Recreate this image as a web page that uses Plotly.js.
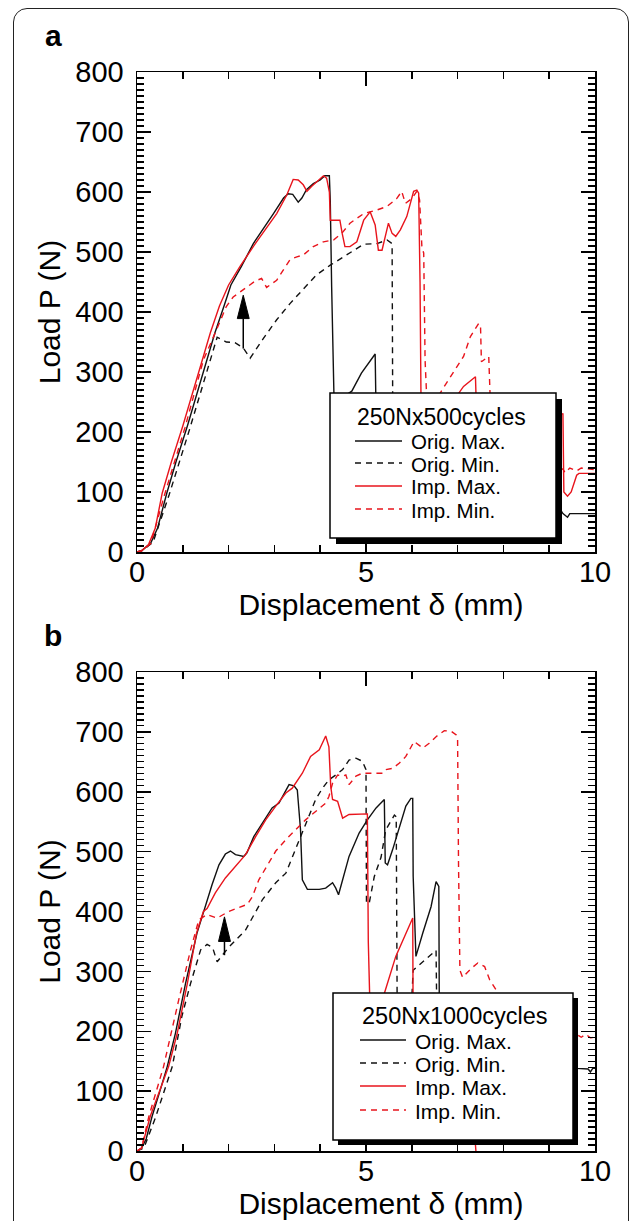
<!DOCTYPE html>
<html><head><meta charset="utf-8">
<script src="https://cdn.plot.ly/plotly-3.0.1.min.js"></script>
<style>
html,body{margin:0;padding:0;background:#fff;}
#chart{width:633px;height:1221px;}
#frame{position:absolute;left:13px;top:8px;width:614px;height:1300px;border:1.5px solid #222;border-radius:14px;pointer-events:none;}
</style></head><body>
<div id="chart"></div><div id="frame"></div>
<script>
// ---------- Panel a : 250N x 500 cycles ----------
const aOrigMaxX = [0,0.1,0.3,0.45,0.65,0.85,1.1,1.3,1.5,1.7,1.9,2.05,2.28,2.54,2.98,3.2,3.3,3.4,3.52,3.6,3.7,3.85,4.0,4.1,4.2,4.22,4.25,4.28,4.3,4.5,4.69,4.9,5.05,5.2,5.22,5.6,6.5,7.5,8.5,9.0,9.25,9.3,9.4,9.45,9.6,10];
const aOrigMaxY = [0,2,15,40,98,150,210,262,315,365,410,445,476,514,564,590,597,596,583,590,604,614,620,627,627,585,442,300,262,258,268,298,315,330,230,200,160,130,100,80,70,64,58,64,64,64];
const aOrigMinX = [0,0.1,0.35,0.7,1.15,1.55,1.75,1.95,2.14,2.32,2.47,2.76,3.05,3.34,3.78,3.92,4.22,4.51,4.95,5.24,5.46,5.57,5.59,6.5,7.0];
const aOrigMinY = [0,2,16,95,205,305,358,350,349,340,323,356,387,414,451,462,478,492,513,514,520,514,100,80,60];
const aImpMaxX = [0,0.1,0.25,0.4,0.55,0.75,1.0,1.2,1.4,1.6,1.8,2.0,2.25,2.61,3.05,3.27,3.41,3.52,3.63,3.71,3.81,3.96,4.07,4.14,4.2,4.22,4.43,4.48,4.54,4.65,4.8,4.95,5.09,5.2,5.27,5.35,5.49,5.57,5.65,5.75,5.89,6.04,6.11,6.15,6.18,6.2,6.22,6.6,7.0,7.13,7.39,7.41,8.0,9.0,9.3,9.32,9.4,9.48,9.6,9.65,10];
const aImpMaxY = [0,2,12,40,98,150,210,262,315,365,410,445,476,517,564,595,621,620,612,601,609,620,627,623,600,553,553,531,509,509,517,553,567,545,503,503,548,531,526,537,559,601,603,598,450,264,250,240,262,276,292,240,235,232,230,100,93,100,128,131,131];
const aImpMinX = [0,0.1,0.3,0.6,1.05,1.45,1.7,1.95,2.1,2.32,2.57,2.72,2.83,3.05,3.34,3.49,3.63,3.85,4.07,4.29,4.47,4.65,4.95,5.24,5.46,5.67,5.78,5.86,6.0,6.11,6.17,6.22,6.26,6.29,6.33,6.55,6.66,7.13,7.28,7.46,7.5,7.52,7.68,7.71,8.5,9.2,9.3,9.35,9.45,9.6,9.7,10];
const aImpMinY = [0,2,14,95,208,320,364,409,425,437,451,456,441,453,487,492,495,509,517,520,531,548,564,570,576,589,601,581,589,601,587,509,498,320,250,255,270,326,359,381,378,317,326,260,170,140,138,132,140,135,140,137];

// ---------- Panel b : 250N x 1000 cycles ----------
const bOrigMaxX = [0,0.1,0.2,0.33,0.5,0.66,0.84,1.06,1.31,1.45,1.55,1.64,1.79,1.93,2.04,2.15,2.33,2.4,2.55,2.74,2.95,3.1,3.25,3.32,3.43,3.5,3.57,3.61,3.72,3.98,4.12,4.27,4.34,4.4,4.49,4.63,4.85,5.03,5.22,5.36,5.4,5.42,5.47,5.58,5.73,5.87,5.98,6.02,6.03,6.09,6.24,6.42,6.53,6.59,6.6,7.5,8.5,9.4,9.6,9.85,9.9,9.95,10];
const bOrigMaxY = [0,5,20,58,100,141,197,280,364,400,425,445,478,496,501,495,492,498,525,548,573,581,603,612,610,603,537,453,437,437,439,448,439,428,453,492,531,553,573,584,587,481,478,503,542,576,589,589,459,325,364,408,450,442,250,200,160,140,138,137,132,138,138];
const bOrigMinX = [0,0.15,0.4,0.77,0.98,1.17,1.39,1.53,1.65,1.75,2.0,2.37,2.74,3.03,3.25,3.47,3.68,3.9,4.05,4.19,4.34,4.49,4.63,4.78,4.92,5.0,5.01,5.07,5.18,5.33,5.43,5.55,5.62,5.66,5.68,6.0,6.03,6.3,6.53,6.55,7.5,9.0];
const bOrigMinY = [0,5,55,141,225,280,336,345,340,316,340,369,420,448,464,506,548,587,606,620,628,637,653,656,651,637,414,414,458,491,536,552,561,558,250,255,302,320,335,200,150,125];
const bImpMaxX = [0,0.1,0.29,0.5,0.69,0.88,1.1,1.3,1.45,1.53,1.71,1.93,2.15,2.37,2.59,2.81,3.03,3.25,3.39,3.46,3.61,3.79,3.98,4.12,4.19,4.23,4.27,4.38,4.49,4.63,5.0,5.03,5.05,5.1,5.3,5.4,5.65,6.02,6.03,7.38,7.4];
const bImpMaxY = [0,5,58,100,141,197,280,364,400,405,431,456,475,495,525,553,576,598,606,614,631,659,670,693,675,609,587,584,556,562,563,563,350,200,230,263,325,389,200,20,0];
const bImpMinX = [0,0.1,0.26,0.58,0.91,1.17,1.35,1.53,1.75,2.0,2.41,2.52,2.66,2.81,3.03,3.25,3.46,3.68,3.9,4.12,4.19,4.27,4.38,4.49,4.56,4.63,4.78,4.92,5.14,5.36,5.43,5.58,5.73,5.87,6.05,6.16,6.24,6.38,6.53,6.71,6.86,6.97,7.0,7.02,7.05,7.11,7.3,7.44,7.59,7.7,7.84,7.9,8.5,9.3,9.62,9.7,9.8,9.9,10];
const bImpMinY = [0,5,58,141,252,336,386,395,389,400,412,425,453,473,501,520,537,553,567,581,592,614,628,626,628,612,626,631,631,631,637,639,648,659,684,678,673,681,692,702,701,695,687,480,302,290,305,314,308,286,269,240,210,197,194,190,195,189,190];

const seriesNames = ['Orig. Max.','Orig. Min.','Imp. Max.','Imp. Min.'];
const legendTitles = ['250Nx500cycles','250Nx1000cycles'];
const xTickVals = [0,5,10];
// arrows: [x, stem bottom, head base, tip]
const arrowA = [2.32, 339, 389, 428];
const arrowB = [1.91, 327, 350, 391];

// ---------- layout helpers ----------
const W=633,H=1221,ML=137,MR=38,MT=72,MB=70;
const PW=W-ML-MR, PH=H-MT-MB;
const px2x = p => (p-ML)/PW;
const py2y = p => (H-MB-p)/PH;
const FONT = 'Liberation Sans, Arial, Helvetica, sans-serif';
const RED = '#e8141c', BLK = '#111111';
const colorOf = i => (i<2)?BLK:RED;
const dashOf = i => (i%2===1)?'6px,5px':'solid';

function tr(x,y,i,xa,ya){
  return {x:x,y:y,type:'scatter',mode:'lines',name:seriesNames[i],showlegend:false,
    line:{color:colorOf(i),width:1.4,dash:dashOf(i),shape:'linear'},
    xaxis:xa,yaxis:ya,hoverinfo:'skip'};
}
const data = [
  tr(aOrigMaxX,aOrigMaxY,0,'x','y'),
  tr(aOrigMinX,aOrigMinY,1,'x','y'),
  tr(aImpMaxX,aImpMaxY,2,'x','y'),
  tr(aImpMinX,aImpMinY,3,'x','y'),
  tr(bOrigMaxX,bOrigMaxY,0,'x2','y2'),
  tr(bOrigMinX,bOrigMinY,1,'x2','y2'),
  tr(bImpMaxX,bImpMaxY,2,'x2','y2'),
  tr(bImpMinX,bImpMinY,3,'x2','y2')
];

function xax(anchor){
  return {domain:[0,1],anchor:anchor,range:[0,10],tickmode:'array',tickvals:xTickVals,
    ticks:'inside',ticklen:14,tickwidth:1.5,tickcolor:'#000',mirror:'allticks',
    showline:true,linewidth:1.5,linecolor:'#000',showgrid:false,zeroline:false,
    minor:{dtick:1,tick0:0,ticks:'inside',ticklen:7,tickwidth:1.5,tickcolor:'#000',showgrid:false},
    tickfont:{family:FONT,size:29,color:'#000'},ticklabelstandoff:-6,
    title:{text:'\u200b\u2002\u2002Displacement \u03b4 (mm)',font:{family:FONT,size:30,color:'#000'},standoff:2}};
}
function yax(anchor,dom){
  return {domain:dom,anchor:anchor,range:[0,800],dtick:100,tick0:0,
    ticks:'inside',ticklen:14,tickwidth:1.5,tickcolor:'#000',mirror:'allticks',
    showline:true,linewidth:1.5,linecolor:'#000',showgrid:false,zeroline:false,
    minor:{dtick:10,ticks:'inside',ticklen:7,tickwidth:1.2,tickcolor:'#000',showgrid:false},
    tickfont:{family:FONT,size:29,color:'#000'},ticklabelstandoff:6,
    title:{text:'Load P (N)',font:{family:FONT,size:30,color:'#000'},standoff:6}};
}

function arrowShapes(a,xr,yr){
  const hw=0.13;
  return [
    {type:'line',xref:xr,yref:yr,x0:a[0],x1:a[0],y0:a[1],y1:a[2],line:{color:'#000',width:1.5}},
    {type:'path',xref:xr,yref:yr,path:`M ${a[0]-hw},${a[2]} L ${a[0]+hw},${a[2]} L ${a[0]},${a[3]} Z`,
     fillcolor:'#000',line:{color:'#000',width:1}}
  ];
}

// legend boxes (pixel geometry of the drawing)
const legA = {box:[330,393,556,538],off:6,titleX:355,titleY:417,titleSize:23,lineX:[355,402],textX:409,rows:[441,463,486,509],size:20.5};
const legB = {box:[333,993,573,1140],off:5,titleX:360,titleY:1016,titleSize:23.5,lineX:[360,406],textX:413,rows:[1040,1063,1086,1110],size:21};

function legendParts(L,title){
  const [l,t,r,b]=L.box, o=L.off;
  const shapes=[
    {type:'rect',xref:'paper',yref:'paper',x0:px2x(l+o),x1:px2x(r+o),y0:py2y(b+o),y1:py2y(t+o),
     fillcolor:'#000',line:{width:0},layer:'above'},
    {type:'rect',xref:'paper',yref:'paper',x0:px2x(l),x1:px2x(r),y0:py2y(b),y1:py2y(t),
     fillcolor:'#fff',line:{color:'#000',width:1.5},layer:'above'}
  ];
  const ann=[{text:title,xref:'paper',yref:'paper',x:px2x(L.titleX),y:py2y(L.titleY),
    xanchor:'left',yanchor:'middle',showarrow:false,font:{family:FONT,size:L.titleSize,color:'#000'}}];
  seriesNames.forEach((nm,i)=>{
    const yy=L.rows[i];
    shapes.push({type:'line',xref:'paper',yref:'paper',x0:px2x(L.lineX[0]),x1:px2x(L.lineX[1]),
      y0:py2y(yy),y1:py2y(yy),line:{color:colorOf(i),width:1.4,dash:dashOf(i)},layer:'above'});
    ann.push({text:nm,xref:'paper',yref:'paper',x:px2x(L.textX),y:py2y(yy+1),
      xanchor:'left',yanchor:'middle',showarrow:false,font:{family:FONT,size:L.size,color:'#000'}});
  });
  return {shapes,ann};
}
const LA=legendParts(legA,legendTitles[0]);
const LB=legendParts(legB,legendTitles[1]);

const layout = {
  width:W,height:H,margin:{l:ML,r:MR,t:MT,b:MB},
  paper_bgcolor:'#fff',plot_bgcolor:'#fff',showlegend:false,
  xaxis:xax('y'), yaxis:yax('x',[py2y(552),1]),
  xaxis2:xax('y2'), yaxis2:yax('x2',[0,py2y(672)]),
  shapes:[].concat(arrowShapes(arrowA,'x','y'),arrowShapes(arrowB,'x2','y2'),LA.shapes,LB.shapes),
  annotations:[
    {text:'<b>a</b>',xref:'paper',yref:'paper',x:px2x(53),y:py2y(35),showarrow:false,
     font:{family:FONT,size:30,color:'#000'},xanchor:'center',yanchor:'middle'},
    {text:'<b>b</b>',xref:'paper',yref:'paper',x:px2x(53),y:py2y(635),showarrow:false,
     font:{family:FONT,size:30,color:'#000'},xanchor:'center',yanchor:'middle'}
  ].concat(LA.ann,LB.ann)
};
Plotly.newPlot('chart',data,layout,{staticPlot:true,displayModeBar:false});
</script></body></html>
